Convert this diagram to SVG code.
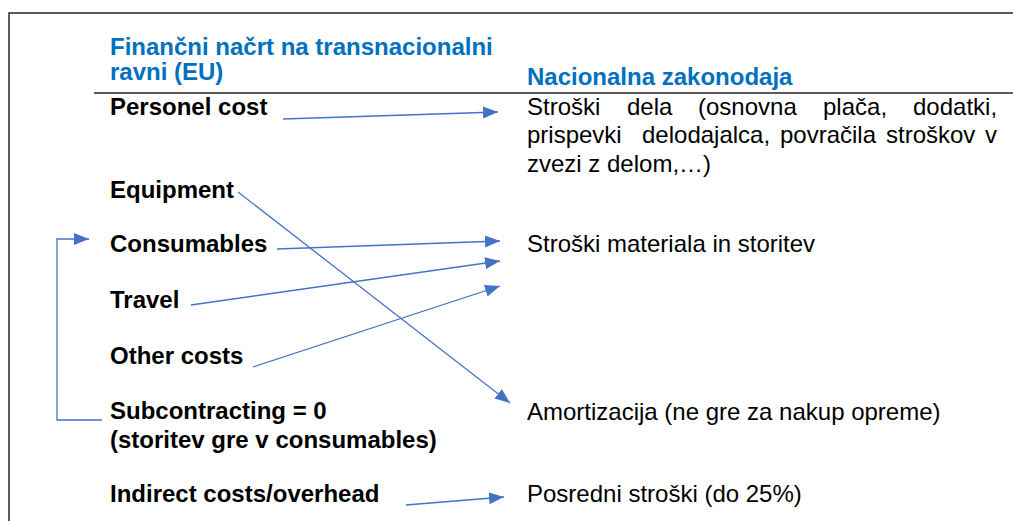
<svg xmlns="http://www.w3.org/2000/svg" width="1013" height="521" viewBox="0 0 1013 521">
<style>
.t{font-family:"Liberation Sans",Arial,sans-serif;font-size:24px;fill:#000}
.b{font-weight:bold}
.h{font-family:"Liberation Sans",Arial,sans-serif;font-size:24px;font-weight:bold;fill:#0070C0}
.c{fill:none;stroke:#4472C4;stroke-width:1.3}
.frame{fill:none;stroke:#262626;stroke-width:1.5}
</style>
<defs>
<marker id="ah" markerUnits="userSpaceOnUse" markerWidth="16" markerHeight="12" refX="15" refY="6" orient="auto">
<path d="M0,0 L15,6 L0,12 Z" fill="#4472C4"/>
</marker>
</defs>
<rect width="1013" height="521" fill="#fff"/>
<path class="frame" d="M9,521 V13 H1013"/>
<line x1="94" y1="93" x2="1013" y2="93" stroke="#262626" stroke-width="1.3"/>
<g id="header-left"><text class="h" x="110" y="55">Finančni načrt na transnacionalni</text><text class="h" x="110" y="80">ravni (EU)</text></g>
<g id="header-right"><text class="h" x="527" y="85">Nacionalna zakonodaja</text></g>
<g id="personel"><text class="t b" x="110" y="115">Personel cost</text></g>
<g id="equipment"><text class="t b" x="110" y="198">Equipment</text></g>
<g id="consumables"><text class="t b" x="110" y="252">Consumables</text></g>
<g id="travel"><text class="t b" x="110" y="308">Travel</text></g>
<g id="other"><text class="t b" x="110" y="364">Other costs</text></g>
<g id="subcontracting"><text class="t b" x="110" y="419">Subcontracting = 0</text><text class="t b" x="110" y="448">(storitev gre v consumables)</text></g>
<g id="indirect"><text class="t b" x="110" y="502">Indirect costs/overhead</text></g>
<g id="stroski-dela"><text class="t" y="115"><tspan x="527">Stroški</tspan><tspan x="627">dela</tspan><tspan x="698">(osnovna</tspan><tspan x="823">plača,</tspan><tspan x="913">dodatki,</tspan></text><text class="t" y="143"><tspan x="527">prispevki</tspan><tspan x="642">delodajalca,</tspan><tspan x="780">povračila</tspan><tspan x="886">stroškov</tspan><tspan x="985">v</tspan></text><text class="t" x="527" y="172">zvezi z delom,…)</text></g>
<g id="stroski-materiala"><text class="t" x="527" y="252">Stroški materiala in storitev</text></g>
<g id="amortizacija"><text class="t" x="527" y="420">Amortizacija (ne gre za nakup opreme)</text></g>
<g id="posredni"><text class="t" x="527" y="502">Posredni stroški (do 25%)</text></g>
<g id="connectors">
<path class="c" marker-end="url(#ah)" d="M283,119 L498,112"/>
<path class="c" marker-end="url(#ah)" d="M238,192 L510,403"/>
<path class="c" marker-end="url(#ah)" d="M277,249 L500,241"/>
<path class="c" marker-end="url(#ah)" d="M191,305 L500,261"/>
<path class="c" marker-end="url(#ah)" d="M253,367 L500,286"/>
<path class="c" marker-end="url(#ah)" d="M102,420 H57 V239 H89"/>
<path class="c" marker-end="url(#ah)" d="M406,505 L504,497"/>
</g>
</svg>
